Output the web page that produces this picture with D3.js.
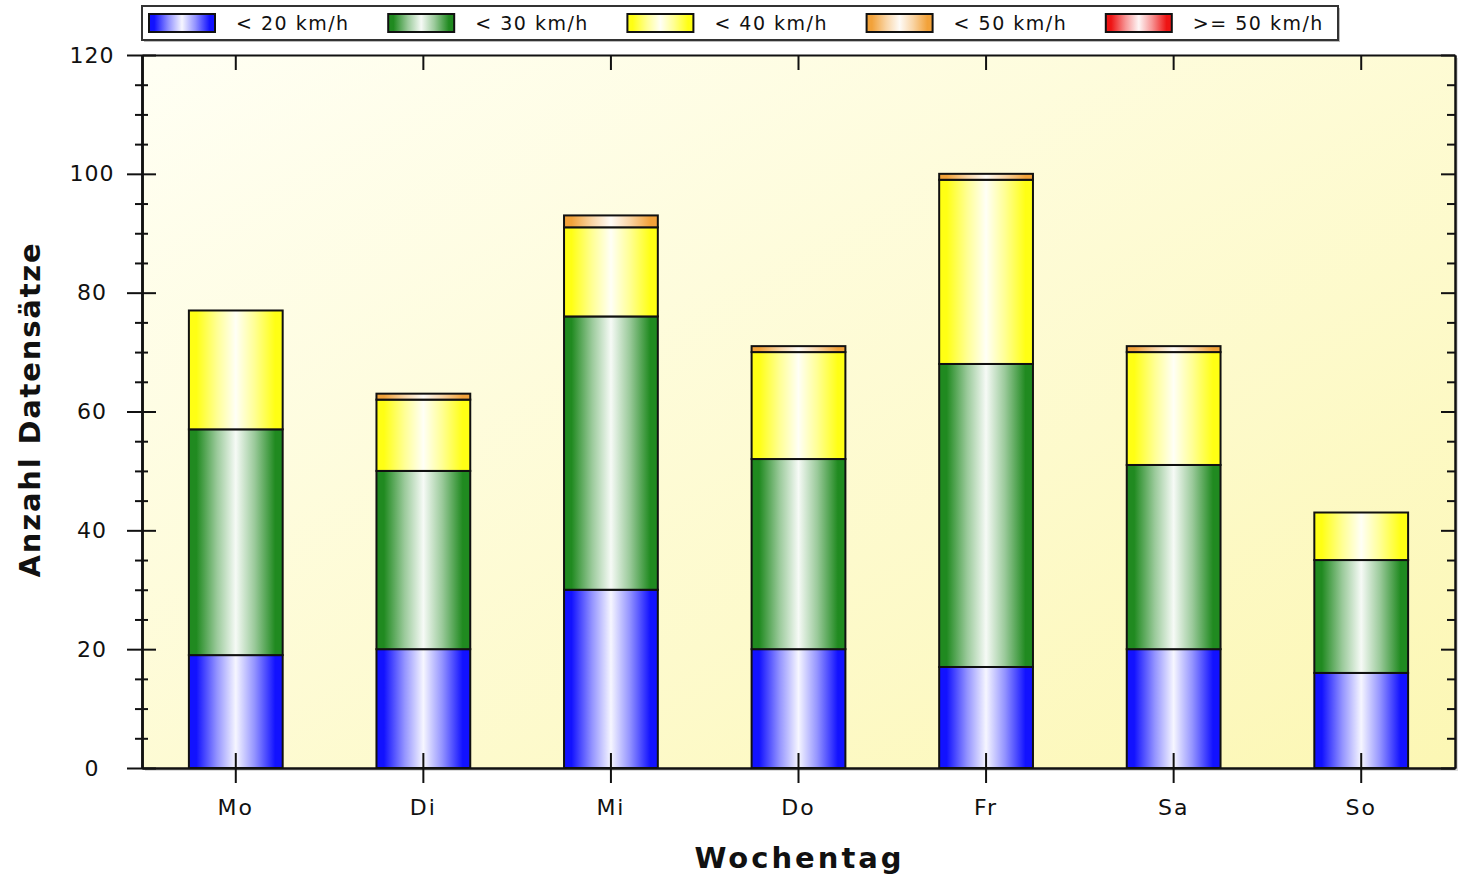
<!DOCTYPE html>
<html>
<head>
<meta charset="utf-8">
<script src="https://cdn.jsdelivr.net/npm/d3@7"></script>
<style>
  body { margin: 0; background: #fff; }
  text { font-family: "DejaVu Sans", sans-serif; fill: #111; }
</style>
</head>
<body>
<svg id="chart" width="1469" height="879"></svg>
<script>
// Anzahl Datensätze je Wochentag, gestapelt nach Geschwindigkeitsklasse
var days = ['Mo', 'Di', 'Mi', 'Do', 'Fr', 'Sa', 'So'];
var seriesNames = ['< 20 km/h', '< 30 km/h', '< 40 km/h', '< 50 km/h', '>= 50 km/h'];
var below20 = [19, 20, 30, 20, 17, 20, 16];
var below30 = [38, 30, 46, 32, 51, 31, 19];
var below40 = [20, 12, 15, 18, 31, 19, 8];
var below50 = [0, 1, 2, 1, 1, 1, 0];
var above50 = [0, 0, 0, 0, 0, 0, 0];
var yTicks = [0, 20, 40, 60, 80, 100, 120];
var yMinorTicks = d3.range(0, 121, 5).filter(function(v) { return v % 20 !== 0; });

var seriesColors = ['#1212ff', '#208a20', '#ffff14', '#f2a23a', '#ee1414'];
var seriesValues = [below20, below30, below40, below50, above50];

var table = days.map(function(day, i) {
  var row = { day: day };
  seriesNames.forEach(function(name, s) { row[name] = seriesValues[s][i]; });
  return row;
});

var svg = d3.select('#chart');
var plotLeft = 142, plotRight = 1455, plotTop = 55, plotBottom = 768;

var x = d3.scaleBand().domain(days).range([plotLeft, plotRight]).paddingInner(0.5).paddingOuter(0.25);
var y = d3.scaleLinear().domain([0, 120]).range([plotBottom, plotTop]);

var defs = svg.append('defs');

// horizontal "cylinder" gradients for bars and legend swatches
seriesColors.forEach(function(c, i) {
  var g = defs.append('linearGradient').attr('id', 'grad' + i)
    .attr('x1', 0).attr('x2', 1).attr('y1', 0).attr('y2', 0);
  var light = d3.interpolateRgb(c, '#ffffff');
  [[0, c], [0.08, c], [0.3, light(0.55)], [0.5, light(0.96)], [0.7, light(0.55)], [0.92, c], [1, c]]
    .forEach(function(s) { g.append('stop').attr('offset', s[0]).attr('stop-color', s[1]); });
});

var bg = defs.append('linearGradient').attr('id', 'plotBg')
  .attr('x1', 0).attr('y1', 0).attr('x2', 1).attr('y2', 1);
bg.append('stop').attr('offset', 0).attr('stop-color', '#fffff4');
bg.append('stop').attr('offset', 1).attr('stop-color', '#fcf7b4');

// plot background with a faint shadow
svg.append('rect')
  .attr('x', plotLeft + 3).attr('y', plotTop + 3)
  .attr('width', plotRight - plotLeft).attr('height', plotBottom - plotTop)
  .attr('fill', '#dcdcdc');
svg.append('rect')
  .attr('x', plotLeft).attr('y', plotTop)
  .attr('width', plotRight - plotLeft).attr('height', plotBottom - plotTop)
  .attr('fill', 'url(#plotBg)');

// stacked bars
var stack = d3.stack().keys(seriesNames)(table);

var layer = svg.selectAll('.layer')
  .data(stack)
  .enter().append('g')
  .attr('class', 'layer')
  .attr('fill', function(d, i) { return 'url(#grad' + i + ')'; });

layer.selectAll('rect')
  .data(function(d) { return d.filter(function(p) { return p[1] - p[0] > 0; }); })
  .enter().append('rect')
  .attr('x', function(d) { return x(d.data.day); })
  .attr('y', function(d) { return y(d[1]); })
  .attr('width', x.bandwidth())
  .attr('height', function(d) { return y(d[0]) - y(d[1]); })
  .attr('stroke', '#111')
  .attr('stroke-width', 2);

// axes
function styleAxis(g) {
  g.selectAll('path, line').attr('stroke', '#111').attr('stroke-width', 2);
}

// left axis: major ticks cross the line, minor ticks shorter
svg.append('g').attr('transform', 'translate(' + plotLeft + ',0)')
  .call(d3.axisLeft(y).tickValues(yMinorTicks).tickSize(7).tickSizeOuter(0).tickFormat(''))
  .call(styleAxis);
svg.append('g').attr('transform', 'translate(' + plotLeft + ',0)')
  .call(d3.axisRight(y).tickValues(yMinorTicks).tickSize(6).tickSizeOuter(0).tickFormat(''))
  .call(styleAxis);
svg.append('g').attr('transform', 'translate(' + plotLeft + ',0)')
  .call(d3.axisRight(y).tickValues(yTicks).tickSize(14).tickSizeOuter(0).tickFormat(''))
  .call(styleAxis);
var yAxis = svg.append('g').attr('transform', 'translate(' + plotLeft + ',0)')
  .call(d3.axisLeft(y).tickValues(yTicks).tickSize(15).tickSizeOuter(0))
  .call(styleAxis);
yAxis.selectAll('text')
  .attr('x', -50).attr('text-anchor', 'middle')
  .style('font-size', '22px').style('letter-spacing', '1px')
  .style('font-family', '"DejaVu Sans", sans-serif').attr('fill', '#111');

// right axis: ticks inward
svg.append('g').attr('transform', 'translate(' + plotRight + ',0)')
  .call(d3.axisLeft(y).tickValues(yMinorTicks).tickSize(8).tickSizeOuter(0).tickFormat(''))
  .call(styleAxis);
svg.append('g').attr('transform', 'translate(' + plotRight + ',0)')
  .call(d3.axisLeft(y).tickValues(yTicks).tickSize(14).tickSizeOuter(0).tickFormat(''))
  .call(styleAxis);

// top axis: category ticks pointing down into the plot
svg.append('g').attr('transform', 'translate(0,' + plotTop + ')')
  .call(d3.axisBottom(x).tickSize(15).tickSizeOuter(0).tickFormat(''))
  .call(styleAxis);

// bottom axis: category ticks crossing the line
svg.append('g').attr('transform', 'translate(0,' + plotBottom + ')')
  .call(d3.axisTop(x).tickSize(15).tickSizeOuter(0).tickFormat(''))
  .call(styleAxis);
var xAxis = svg.append('g').attr('transform', 'translate(0,' + plotBottom + ')')
  .call(d3.axisBottom(x).tickSize(15).tickSizeOuter(0))
  .call(styleAxis);
xAxis.selectAll('text')
  .attr('y', 31).attr('dy', '0.71em')
  .style('font-size', '22px').style('letter-spacing', '2px')
  .style('font-family', '"DejaVu Sans", sans-serif').attr('fill', '#111');

// axis titles
svg.append('text')
  .attr('x', (plotLeft + plotRight) / 2 + 1).attr('y', 868)
  .attr('text-anchor', 'middle')
  .style('font-size', '29px').style('font-weight', 'bold').style('letter-spacing', '3px')
  .text('Wochentag');

svg.append('text')
  .attr('transform', 'translate(40,' + ((plotTop + plotBottom) / 2 - 2) + ') rotate(-90)')
  .attr('text-anchor', 'middle')
  .style('font-size', '29px').style('font-weight', 'bold').style('letter-spacing', '1.8px')
  .text('Anzahl Datensätze');

// legend
var legendX = d3.scaleBand().domain(seriesNames).range([142, 1338]);
svg.append('rect')
  .attr('x', 144).attr('y', 8).attr('width', 1196).attr('height', 34)
  .attr('fill', '#bbb');
svg.append('rect')
  .attr('x', 142).attr('y', 6).attr('width', 1196).attr('height', 34)
  .attr('fill', '#fff').attr('stroke', '#333').attr('stroke-width', 2);

var item = svg.selectAll('.legend-item')
  .data(seriesNames)
  .enter().append('g')
  .attr('class', 'legend-item')
  .attr('transform', function(d) { return 'translate(' + legendX(d) + ',0)'; });

item.append('rect')
  .attr('x', 7).attr('y', 14).attr('width', 66).attr('height', 18)
  .attr('fill', function(d, i) { return 'url(#grad' + i + ')'; })
  .attr('stroke', '#111').attr('stroke-width', 2);

item.append('text')
  .attr('x', 94).attr('y', 30)
  .style('font-size', '19px').style('letter-spacing', '1.5px')
  .text(function(d) { return d; });
</script>
</body>
</html>
